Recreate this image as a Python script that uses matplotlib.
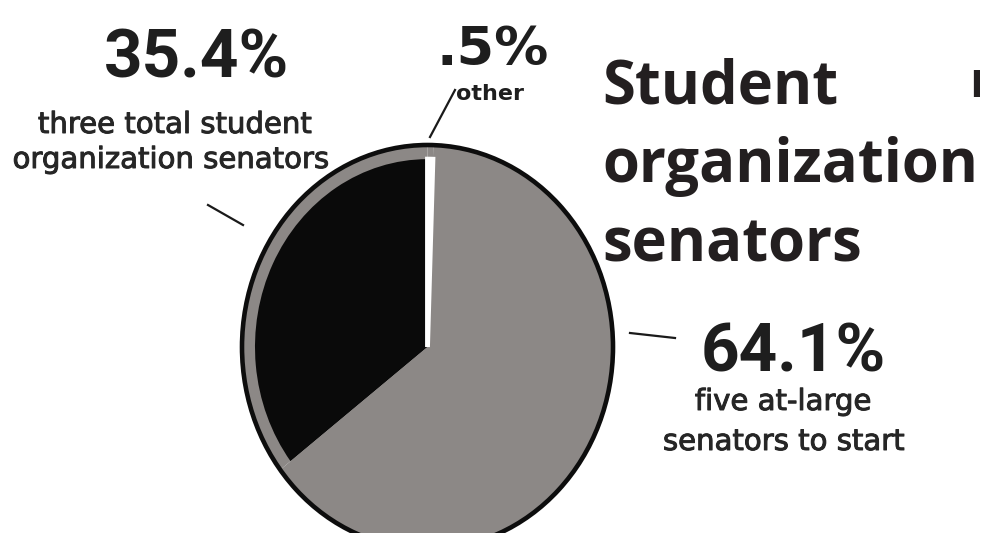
import matplotlib
matplotlib.use("Agg")
import matplotlib.pyplot as plt
import matplotlib.patheffects as pe
from matplotlib.patches import Circle

# ---- data ----
categories = ["student organization senators", "at-large senators", "other"]
shares = [35.4, 64.1, 0.5]
pct_labels = ["35.4%", "64.1%", ".5%"]
desc_labels = [["three total student", "organization senators"],
               ["five at-large", "senators to start"],
               ["other"]]
title_lines = ["Student", "organization", "senators"]
edge_fragment = "l"
slice_colors = ["#0a0a0a", "#8c8886", "#ffffff"]
ring_color = "#8c8886"

W, H = 983, 533
fig = plt.figure(figsize=(W / 100, H / 100), dpi=100)
fig.patch.set_facecolor("white")
ax = fig.add_axes([0, 0, 1, 1])

# pie geometry (pixels)
cx, cy = 427.5, 347.0
rx, ry = 185.5, 202.0

# outer gray disc
ax.pie(shares, radius=1.0, colors=[ring_color] * len(shares), startangle=90,
       counterclock=True, wedgeprops=dict(linewidth=0))
# inner slices
wedges, _ = ax.pie(shares, radius=0.93, colors=slice_colors, startangle=90,
                   counterclock=True, wedgeprops=dict(linewidth=0))
wedges[2].set_edgecolor("white")
wedges[2].set_linewidth(3.5)
# outline
ax.add_patch(Circle((0, 0), 1.0, fill=False, ec="#0d0d0d", lw=3.3, zorder=5))

ax.set_aspect("auto")
ax.set_xlim(-cx / rx, (W - cx) / rx)
ax.set_ylim(-(H - cy) / ry, cy / ry)
ax.axis("off")


def fx(x):
    return x / W


def fy(y):
    return 1 - y / H


dark = "#1e1e1e"
sub = "#262626"
thick = [pe.withStroke(linewidth=0.7, foreground=sub)]

# left label
fig.text(fx(196), fy(78), pct_labels[0], family="Roboto", weight="bold",
         fontsize=48.5, color=dark, ha="center", va="baseline")
fig.text(fx(175), fy(133), desc_labels[0][0], family="DejaVu Sans",
         fontsize=21, color=sub, ha="center", va="baseline", path_effects=thick)
fig.text(fx(171), fy(168), desc_labels[0][1], family="DejaVu Sans",
         fontsize=21, color=sub, ha="center", va="baseline", path_effects=thick)

# top label
fig.text(fx(493), fy(65), pct_labels[2], family="DejaVu Sans", weight="bold",
         fontsize=39, color=dark, ha="center", va="baseline")
fig.text(fx(490), fy(100), desc_labels[2][0], family="DejaVu Sans", weight="bold",
         fontsize=16, color=dark, ha="center", va="baseline")

# right label
fig.text(fx(793), fy(372), pct_labels[1], family="Roboto", weight="bold",
         fontsize=48.5, color=dark, ha="center", va="baseline")
fig.text(fx(783), fy(410), desc_labels[1][0], family="DejaVu Sans",
         fontsize=21, color=sub, ha="center", va="baseline", path_effects=thick)
fig.text(fx(784), fy(450), desc_labels[1][1], family="DejaVu Sans",
         fontsize=21, color=sub, ha="center", va="baseline", path_effects=thick)

# leader lines
for (x0, y0, x1, y1) in [(208, 205, 243, 225), (455, 90, 430, 137), (630, 333, 675, 338)]:
    fig.add_artist(plt.Line2D([fx(x0), fx(x1)], [fy(y0), fy(y1)],
                              transform=fig.transFigure, color="#1a1a1a", lw=1.6))

# title
for line, base in zip(title_lines, [103, 182, 261]):
    fig.text(fx(602), fy(base), line, family="Open Sans", weight="bold",
             fontsize=43, color="#231f20", ha="left", va="baseline")

# fragment at right edge
fig.text(fx(982), fy(97), edge_fragment, family="DejaVu Sans", weight="bold",
         fontsize=25, color="#231f20", ha="right", va="baseline")

fig.savefig("out.png", dpi=100, facecolor="white")
